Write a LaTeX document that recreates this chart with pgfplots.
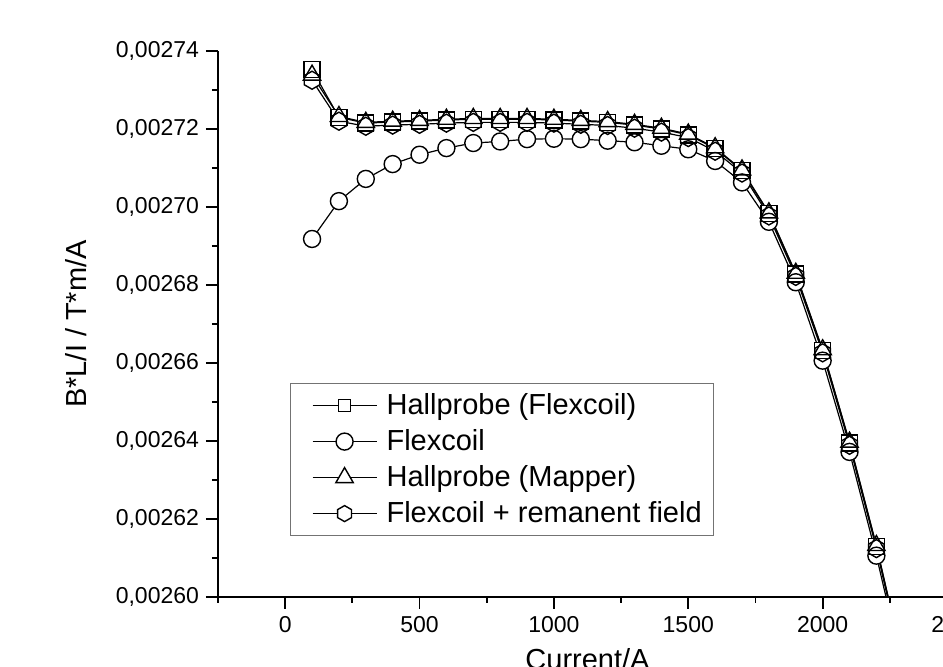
\documentclass[border=0pt]{standalone}
\usepackage{fontspec}
\setmainfont{Liberation Sans}
\usepackage{pgfplots}
\usepackage{pgfplotstable}
\pgfplotsset{compat=1.18}

% open hexagon marks (pointy top)
\pgfdeclareplotmark{hexagon}{%
  \pgfpathmoveto{\pgfpointpolar{90}{\pgfplotmarksize}}%
  \pgfpathlineto{\pgfpointpolar{150}{\pgfplotmarksize}}%
  \pgfpathlineto{\pgfpointpolar{210}{\pgfplotmarksize}}%
  \pgfpathlineto{\pgfpointpolar{270}{\pgfplotmarksize}}%
  \pgfpathlineto{\pgfpointpolar{330}{\pgfplotmarksize}}%
  \pgfpathlineto{\pgfpointpolar{30}{\pgfplotmarksize}}%
  \pgfpathclose\pgfusepathqstroke}
\pgfdeclareplotmark{hexagon*}{%
  \pgfpathmoveto{\pgfpointpolar{90}{\pgfplotmarksize}}%
  \pgfpathlineto{\pgfpointpolar{150}{\pgfplotmarksize}}%
  \pgfpathlineto{\pgfpointpolar{210}{\pgfplotmarksize}}%
  \pgfpathlineto{\pgfpointpolar{270}{\pgfplotmarksize}}%
  \pgfpathlineto{\pgfpointpolar{330}{\pgfplotmarksize}}%
  \pgfpathlineto{\pgfpointpolar{30}{\pgfplotmarksize}}%
  \pgfpathclose\pgfusepathqfillstroke}

% x = current, hf = Hallprobe (Flexcoil), fc = Flexcoil,
% hm = Hallprobe (Mapper), fr = Flexcoil + remanent field
\pgfplotstableread{
x     hf         fc         hm         fr
100   0.0027352  0.0026918  0.0027338  0.0027325
200   0.0027230  0.0027015  0.0027232  0.0027220
300   0.0027215  0.0027072  0.0027217  0.0027207
400   0.0027218  0.0027110  0.0027220  0.0027210
500   0.0027220  0.0027134  0.0027222  0.0027212
600   0.0027223  0.0027151  0.0027225  0.0027215
700   0.0027225  0.0027164  0.0027227  0.0027217
800   0.0027225  0.0027168  0.0027227  0.0027217
900   0.0027225  0.0027174  0.0027227  0.0027217
1000  0.0027223  0.0027175  0.0027225  0.0027215
1100  0.0027220  0.0027174  0.0027222  0.0027212
1200  0.0027217  0.0027170  0.0027219  0.0027209
1300  0.0027210  0.0027166  0.0027212  0.0027202
1400  0.0027200  0.0027157  0.0027202  0.0027192
1500  0.0027185  0.0027148  0.0027187  0.0027178
1600  0.0027150  0.0027118  0.0027152  0.0027143
1700  0.0027093  0.0027063  0.0027095  0.0027087
1800  0.0026983  0.0026962  0.0026985  0.0026977
1900  0.0026828  0.0026807  0.0026830  0.0026822
2000  0.0026632  0.0026606  0.0026634  0.0026626
2100  0.0026395  0.0026372  0.0026397  0.0026389
2200  0.0026130  0.0026106  0.0026132  0.0026124
2300  0.0025830  0.0025810  0.0025832  0.0025824
}\data

\begin{document}
\begin{tikzpicture}
% the reference is cropped on the right and at the bottom
\path[use as bounding box] (-109pt,-35pt) rectangle (362.5pt,298.5pt);
\clip (-109pt,-35pt) rectangle (362.5pt,298.5pt);
\begin{axis}[
  at={(0pt,0pt)}, anchor=south west,
  scale only axis, width=369.5pt, height=273pt,
  xmin=-250, xmax=2500,
  ymin=0.00260, ymax=0.00274,
  axis lines=left,
  axis line style={-, line width=1pt},
  xtick={0,500,1000,1500,2000,2500},
  minor xtick={-250,250,750,1250,1750,2250},
  ytick={0.00260,0.00262,0.00264,0.00266,0.00268,0.00270,0.00272,0.00274},
  minor ytick={0.00261,0.00263,0.00265,0.00267,0.00269,0.00271,0.00273},
  scaled y ticks=false,
  tick align=outside,
  major tick length=6pt, minor tick length=3pt,
  tick style={black, line width=0.9pt},
  /pgf/number format/assume math mode=true,
  xticklabel style={/pgf/number format/set thousands separator={}},
  yticklabel style={/pgf/number format/.cd, fixed, fixed zerofill, precision=5, use comma},
  ticklabel style={font=\fontsize{11.5}{13}\selectfont},
  xlabel={Current/A},
  ylabel={B*L/I / T*m/A},
  label style={font=\fontsize{14.5}{17}\selectfont},
  xlabel style={yshift=-1pt},
  ylabel style={yshift=7.5pt},
  clip marker paths=true,
  legend image code/.code={%
    \path[draw=none] (0pt,0pt) rectangle (42pt,0pt);
    \draw[mark repeat=2,mark phase=2] plot coordinates {(7pt,0pt) (23pt,0pt) (39pt,0pt)};},
  legend style={at={(0.0974,0.392)}, anchor=north west,
    draw=black!55, line width=0.6pt,
    font=\fontsize{14.5}{17}\selectfont,
    cells={anchor=west}, row sep=2pt,
    inner xsep=4pt, inner ysep=3pt},
  legend cell align=left,
]
% connecting lines
\addplot[black, line width=0.6pt, no marks, forget plot] table[x=x, y=hf] {\data};
\addplot[black, line width=0.6pt, no marks, forget plot] table[x=x, y=fc] {\data};
\addplot[black, line width=0.6pt, no marks, forget plot] table[x=x, y=hm] {\data};
\addplot[black, line width=0.6pt, no marks, forget plot] table[x=x, y=fr] {\data};
% white interiors of the markers
\addplot[only marks, mark=square*, mark size=4pt, mark options={draw=white, fill=white}, forget plot] table[x=x, y=hf] {\data};
\addplot[only marks, mark=*, mark size=4.25pt, mark options={draw=white, fill=white}, forget plot] table[x=x, y=fc] {\data};
\addplot[only marks, mark=triangle*, mark size=5pt, mark options={draw=white, fill=white}, forget plot] table[x=x, y=hm] {\data};
\addplot[only marks, mark=hexagon*, mark size=4.5pt, mark options={draw=white, fill=white}, forget plot] table[x=x, y=fr] {\data};
% marker outlines
\addplot[only marks, mark=square, mark size=4pt, mark options={draw=black, line width=0.7pt}, forget plot] table[x=x, y=hf] {\data};
\addplot[only marks, mark=o, mark size=4.25pt, mark options={draw=black, line width=0.7pt}, forget plot] table[x=x, y=fc] {\data};
\addplot[only marks, mark=triangle, mark size=5pt, mark options={draw=black, line width=0.7pt}, forget plot] table[x=x, y=hm] {\data};
\addplot[only marks, mark=hexagon, mark size=4.5pt, mark options={draw=black, line width=0.7pt}, forget plot] table[x=x, y=fr] {\data};
% legend
\addlegendimage{black, line width=0.6pt, mark=square*, mark size=3pt, mark options={fill=white, line width=0.7pt}}
\addlegendimage{black, line width=0.6pt, mark=*, mark size=4.25pt, mark options={fill=white, line width=0.7pt}}
\addlegendimage{black, line width=0.6pt, mark=triangle*, mark size=5pt, mark options={fill=white, line width=0.7pt}}
\addlegendimage{black, line width=0.6pt, mark=hexagon*, mark size=4pt, mark options={fill=white, line width=0.7pt}}
\legend{Hallprobe (Flexcoil), Flexcoil, Hallprobe (Mapper), Flexcoil + remanent field}
\end{axis}
\end{tikzpicture}
\end{document}
